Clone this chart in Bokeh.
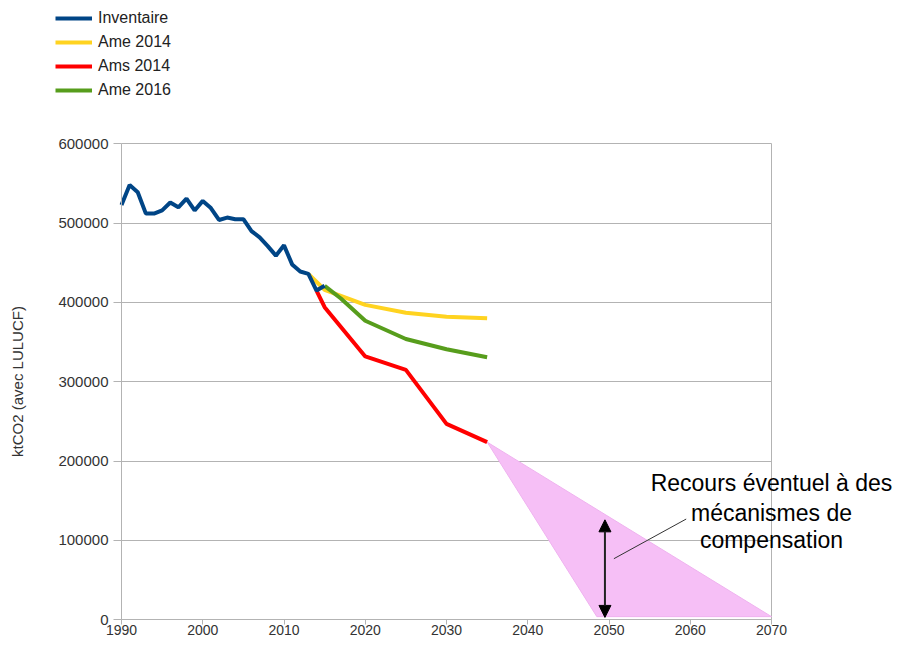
from bokeh.plotting import figure
from bokeh.models import (Legend, LegendItem, Label, Arrow, NormalHead, Grid,
                          SingleIntervalTicker, FixedTicker, BasicTickFormatter, Range1d)
from bokeh.embed import file_html
from bokeh.resources import INLINE

# ---- data ----
inv_years = list(range(1990, 2016))
inv_vals = [523000, 548000, 539000, 512000, 512000, 516000, 526000, 520000,
            531000, 516000, 528000, 519000, 504000, 507000, 505000, 505000,
            490000, 482000, 471000, 459000, 472000, 448000, 439000, 436000,
            415000, 421000]

ame14_years = [2013, 2015, 2020, 2025, 2030, 2035]
ame14_vals = [436000, 416000, 397000, 387000, 382000, 380000]

ams14_years = [2014, 2015, 2020, 2025, 2030, 2035]
ams14_vals = [415000, 394000, 332000, 315000, 247000, 224000]

ame16_years = [2015, 2017, 2020, 2025, 2030, 2035]
ame16_vals = [421000, 405000, 377000, 354000, 341000, 331000]

comp_x = [2035, 2048.5, 2070]
comp_y = [224000, 4000, 4000]

arrow_x = 2049.5
arrow_top = 126000
arrow_bottom = 3000

leader_x = [2050.6, 2059.5]
leader_y = [77000, 127000]

note_lines = ["Recours éventuel à des", "mécanismes de", "compensation"]
note_x = 2070
note_y = [172000, 135000, 100000]

X0, X1 = 1990, 2070
Y0, Y1 = 0, 600000

# ---- layout constants (pixels) ----
W, H = 895, 641
FL, FR, FT, FB = 121, 771, 143.3, 619.3   # plot-area edges

kx = (FR - FL) / (X1 - X0)
ky = (FB - FT) / (Y1 - Y0)
xr = Range1d(X0 - FL / kx, X0 + (W - FL) / kx)
yr = Range1d(Y0 - (H - FB) / ky, Y0 + FB / ky)

FONT = "Liberation Sans"
GRID = "#b3b3b3"

p = figure(width=W, height=H, output_backend="svg", toolbar_location=None,
           x_range=xr, y_range=yr, min_border=0)
p.background_fill_color = "white"
p.border_fill_color = "white"
p.outline_line_color = None

# axes placed at the plot-area edges
p.xaxis.fixed_location = Y0
p.yaxis.fixed_location = X0
p.xaxis.bounds = (X0, X1)
p.yaxis.bounds = (Y0, Y1)
p.xaxis.ticker = SingleIntervalTicker(interval=10, num_minor_ticks=0)
p.yaxis.ticker = SingleIntervalTicker(interval=100000, num_minor_ticks=0)
p.yaxis.formatter = BasicTickFormatter(use_scientific=False)
for ax in (p.xaxis, p.yaxis):
    ax.axis_line_color = GRID
    ax.major_tick_line_color = GRID
    ax.minor_tick_line_color = None
    ax.major_tick_in = 0
    ax.major_label_text_font = FONT
    ax.major_label_text_color = "#333333"
p.xaxis.major_label_text_font_size = "14px"
p.yaxis.major_label_text_font_size = "15px"
p.xaxis.major_tick_out = 5
p.xaxis.major_label_standoff = 0
p.yaxis.major_tick_out = 8
p.yaxis.major_label_standoff = 5
p.yaxis.axis_label = "ktCO2 (avec LULUCF)"
p.yaxis.axis_label_text_font = FONT
p.yaxis.axis_label_text_font_size = "15px"
p.yaxis.axis_label_text_font_style = "normal"
p.yaxis.axis_label_text_color = "#333333"
p.yaxis.axis_label_standoff = 29

# grid lines limited to the plot area
p.xgrid.grid_line_color = None
p.ygrid.grid_line_color = None
has_cross = "cross_bounds" in Grid.properties()
if has_cross:
    hg = Grid(dimension=1, ticker=SingleIntervalTicker(interval=100000, num_minor_ticks=0),
              grid_line_color=GRID, bounds=(Y0, Y1), cross_bounds=(X0, X1))
    vg = Grid(dimension=0, ticker=FixedTicker(ticks=[X1]),
              grid_line_color=GRID, bounds=(X0, X1), cross_bounds=(Y0, Y1))
    p.add_layout(hg)
    p.add_layout(vg)
else:
    gy = list(range(Y0 + 100000, Y1 + 1, 100000))
    p.segment(x0=[X0] * len(gy), y0=gy, x1=[X1] * len(gy), y1=gy,
              line_color=GRID, line_width=1, level="underlay")
    p.segment(x0=[X1], y0=[Y0], x1=[X1], y1=[Y1], line_color=GRID,
              line_width=1, level="underlay")

# compensation triangle
p.patch(comp_x, comp_y, fill_color="#f6bff6", fill_alpha=1.0,
        line_color="#efb2ef", line_width=1)

# series
r_ame14 = p.line(ame14_years, ame14_vals, line_color="#ffd320", line_width=4)
r_ams14 = p.line(ams14_years, ams14_vals, line_color="#ff0000", line_width=4)
r_ame16 = p.line(ame16_years, ame16_vals, line_color="#579d1c", line_width=4)
r_inv = p.line(inv_years, inv_vals, line_color="#004586", line_width=4)

# arrow
p.add_layout(Arrow(x_start=arrow_x, y_start=arrow_bottom, x_end=arrow_x, y_end=arrow_top,
                   start=NormalHead(size=12, fill_color="black", line_color="black"),
                   end=NormalHead(size=12, fill_color="black", line_color="black"),
                   line_color="#222222", line_width=2))

# leader line
p.line(leader_x, leader_y, line_color="#333333", line_width=1)

# note text
for txt, yy in zip(note_lines, note_y):
    p.add_layout(Label(x=note_x, y=yy, text=txt, text_align="center",
                       text_baseline="middle", text_font=FONT,
                       text_font_size="23px", text_color="black"))

legend = Legend(items=[
    LegendItem(label="Inventaire", renderers=[r_inv]),
    LegendItem(label="Ame 2014", renderers=[r_ame14]),
    LegendItem(label="Ams 2014", renderers=[r_ams14]),
    LegendItem(label="Ame 2016", renderers=[r_ame16]),
], location=(55, H - 100), padding=0, margin=0, spacing=4,
    glyph_width=37, glyph_height=20, label_height=20, label_standoff=6,
    label_text_font=FONT, label_text_font_size="16px", label_text_color="#222222",
    border_line_alpha=0, background_fill_alpha=0)
p.add_layout(legend, "center")

open("out.html", "w").write(file_html(p, INLINE))
